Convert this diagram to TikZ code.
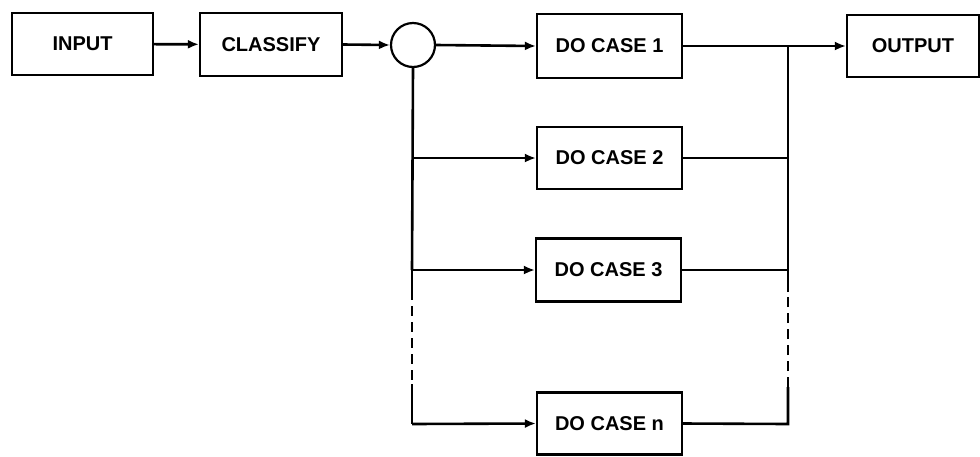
\documentclass[tikz,border=0pt]{standalone}
\usepackage{fontspec}
\setmainfont{Liberation Sans}
\usetikzlibrary{arrows.meta}
\begin{document}
\begin{tikzpicture}[x=1pt,y=-1pt,
  box/.style={draw,line width=2.2pt,rectangle,minimum width=145pt,minimum height=62pt,inner sep=0pt,font=\fontsize{20}{24}\selectfont\bfseries},
  wire/.style={line width=2.6pt},
  arr/.style={wire,-{Latex[length=11pt,width=9pt]}},
  dsh/.style={wire,dash pattern=on 10pt off 6pt}]
\path[use as bounding box,fill=white] (0,0) rectangle (980,456);
\node[box,minimum width=141pt] (in) at (82.5,44) {INPUT};
\node[box,minimum width=142pt,minimum height=63pt] (cl) at (271,44.5) {CLASSIFY};
\node[draw,circle,line width=2.2pt,minimum size=44pt,inner sep=0pt] (ci) at (413,45) {};
\node[box,minimum height=64pt] (c1) at (609.5,46) {DO CASE 1};
\node[box,minimum width=132pt] (out) at (913,46) {OUTPUT};
\node[box] (c2) at (609.5,158) {DO CASE 2};
\node[box,minimum height=63pt] (c3) at (608.5,270) {DO CASE 3};
\node[box,minimum height=62pt] (cn) at (609.5,423.5) {DO CASE n};
% junction coordinates
\coordinate (L2) at (412,158);
\coordinate (L3) at (412,270);
\coordinate (La) at (412,290);
\coordinate (Lb) at (412,384);
\coordinate (Ln) at (412,424);
\coordinate (R1) at (788,46);
\coordinate (R2) at (788,158);
\coordinate (R3) at (788,270);
\coordinate (Ra) at (788,292);
\coordinate (Rb) at (788,387);
\coordinate (Rn) at (788,424);
% top row
\draw[arr] (in) -- (cl);
\draw[arr] (cl.east) -- (ci.west);
\draw[arr] (ci.east) -- (c1.west);
\draw[wire] (c1.east) -- (R1);
\draw[arr] (R1) -- (out.west);
% left bus
\draw[wire] (ci.south) -- (L3);
\draw[wire] (L3) -- (La);
\draw[dsh] (La) -- (Lb);
\draw[wire] (Lb) -- (Ln);
\draw[arr] (L2) -- (c2.west);
\draw[arr] (L3) -- (c3.west);
\draw[arr] (Ln) -- (cn.west);
% right bus
\draw[wire] (c2.east) -- (R2);
\draw[wire] (c3.east) -- (R3);
\draw[wire,line join=miter] (cn.east) -- (Rn) -- (Rb);
\draw[dsh] (Rb) -- (Ra);
\draw[wire] (Ra) -- (R3) -- (R1);
\end{tikzpicture}
\end{document}
